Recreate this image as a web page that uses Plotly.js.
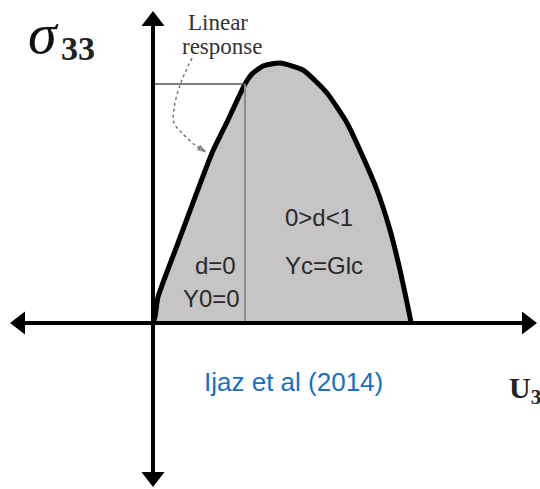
<!DOCTYPE html>
<html>
<head>
<meta charset="utf-8">
<script src="https://cdn.plot.ly/plotly-3.0.1.min.js"></script>
<style>html,body{margin:0;padding:0;background:#fff;}#chart{width:540px;height:489px;}</style>
</head>
<body>
<div id="chart"></div>
<script>
// Schematic traction–separation curve (sigma33 vs U3)
const curveU = [0, 0.02, 0.05, 0.25, 0.59, 0.75, 0.92, 0.99, 1.10, 1.27, 1.50, 1.74, 1.94, 2.10, 2.24, 2.37, 2.47, 2.57, 2.58];
const curveS = [0, 0.06, 0.26, 0.80, 1.70, 2.03, 2.39, 2.49, 2.57, 2.60, 2.53, 2.30, 2.00, 1.66, 1.33, 0.93, 0.53, 0.06, 0];
const linearLimitU = 0.92;
const linearLimitS = 2.39;
const calloutU = [0.39, 0.27, 0.21, 0.21, 0.29, 0.42, 0.53];
const calloutS = [2.65, 2.38, 2.14, 2.00, 1.90, 1.78, 1.71];
const axisU = [-1.40, 3.80];
const axisS = [-1.50, 3.00];
const arrowTipsU = [3.74, -1.33];
const arrowTipsS = [3.02, -1.54];

const traces = [
  {x: curveU, y: curveS, mode: 'lines', fill: 'tozeroy', fillcolor: '#c6c4c4',
   line: {color: '#000', width: 5, shape: 'spline', smoothing: 0.5}, hoverinfo: 'skip'},
  {x: [linearLimitU, linearLimitU], y: [0, linearLimitS], mode: 'lines',
   line: {color: '#8a8a8a', width: 2}, hoverinfo: 'skip'},
  {x: [0, linearLimitU], y: [linearLimitS, linearLimitS], mode: 'lines',
   line: {color: '#555', width: 1.5}, hoverinfo: 'skip'},
  // axes
  {x: axisU, y: [0, 0], mode: 'lines', line: {color: '#000', width: 4}, hoverinfo: 'skip'},
  {x: [0, 0], y: axisS, mode: 'lines', line: {color: '#000', width: 4}, hoverinfo: 'skip'},
  {x: arrowTipsU, y: [0, 0], mode: 'markers', hoverinfo: 'skip',
   marker: {symbol: ['triangle-right', 'triangle-left'], size: 20, color: '#000'}},
  {x: [0, 0], y: arrowTipsS, mode: 'markers', hoverinfo: 'skip',
   marker: {symbol: ['triangle-up', 'triangle-down'], size: 20, color: '#000'}},
  // callout
  {x: calloutU, y: calloutS, mode: 'lines+markers', hoverinfo: 'skip',
   line: {color: '#777', width: 1.5, dash: 'dot', shape: 'spline'},
   marker: {symbol: 'arrow', angleref: 'previous', color: '#666',
            size: calloutU.map((v, i) => i === calloutU.length - 1 ? 9 : 0)}}
];

function label(txt, x, y, size, color, family, extra) {
  return Object.assign({x: x, y: y, xref: 'x', yref: 'y', text: txt, showarrow: false,
    font: {size: size, color: color, family: family}}, extra || {});
}

const annotations = [
  label('Linear', 0.65, 3.01, 23, '#333', 'Liberation Serif, serif'),
  label('response', 0.69, 2.77, 23, '#333', 'Liberation Serif, serif'),
  label('<i>σ</i>', -1.10, 2.90, 58, '#111', 'Liberation Serif, serif'),
  label('<b>33</b>', -0.75, 2.75, 34, '#222', 'Liberation Serif, serif'),
  label('0&gt;d&lt;1', 1.66, 1.06, 24, '#2a2a2a', 'Liberation Sans, Arial, sans-serif'),
  label('Yc=Glc', 1.71, 0.58, 24, '#2a2a2a', 'Liberation Sans, Arial, sans-serif'),
  label('d=0', 0.62, 0.58, 24, '#2a2a2a', 'Liberation Sans, Arial, sans-serif'),
  label('Y0=0', 0.58, 0.25, 24, '#2a2a2a', 'Liberation Sans, Arial, sans-serif'),
  label('Ijaz et al (2014)', 1.40, -0.59, 26, '#1570c8', 'Liberation Sans, Arial, sans-serif'),
  label('<b>U<sub>3</sub></b>', 3.54, -0.67, 30, '#222', 'Liberation Serif, serif', {xanchor: 'left'})
];

const layout = {
  width: 540, height: 489,
  margin: {l: 0, r: 0, t: 0, b: 0},
  paper_bgcolor: '#fff', plot_bgcolor: '#fff',
  showlegend: false,
  xaxis: {range: [-1.53, 3.87], visible: false, fixedrange: true},
  yaxis: {range: [-1.66, 3.23], visible: false, fixedrange: true},
  annotations: annotations
};

Plotly.newPlot('chart', traces, layout, {staticPlot: true, displayModeBar: false});
</script>
</body>
</html>
